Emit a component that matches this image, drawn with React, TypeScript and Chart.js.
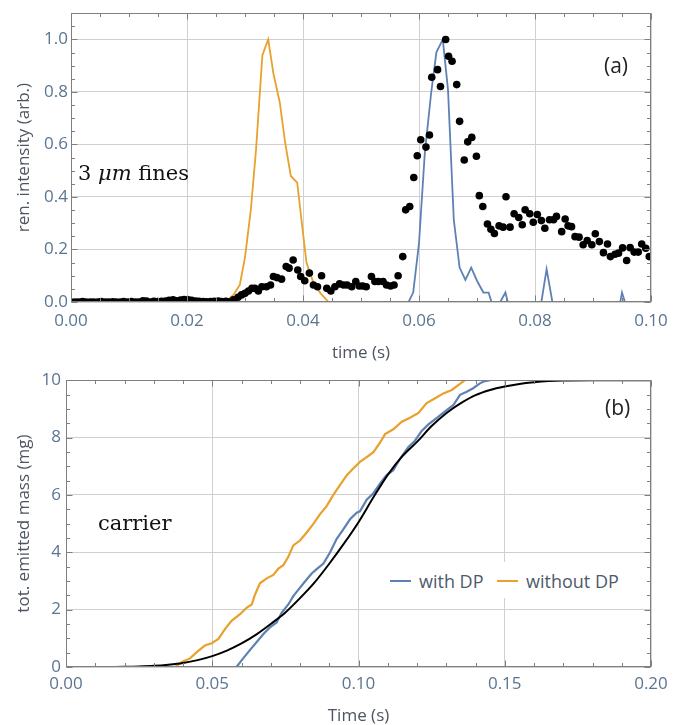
import React, { useEffect, useRef } from 'react';
import { Chart, registerables } from 'chart.js';
Chart.register(...registerables);

// ---------- Panel (a) data ----------
const dotT = [
  0.0000, 0.0007, 0.0013, 0.0020, 0.0026, 0.0033, 0.0039, 0.0046, 0.0052, 0.0059,
  0.0065, 0.0072, 0.0078, 0.0085, 0.0091, 0.0098, 0.0104, 0.0111, 0.0117, 0.0124,
  0.0130, 0.0137, 0.0143, 0.0150, 0.0156, 0.0163, 0.0169, 0.0176, 0.0182, 0.0189,
  0.0195, 0.0202, 0.0208, 0.0215, 0.0221, 0.0228, 0.0234, 0.0241, 0.0247, 0.0254,
  0.0260, 0.0267,
  0.0271, 0.0280, 0.0288, 0.0294, 0.0300, 0.0306, 0.0312, 0.0317, 0.0323, 0.0329,
  0.0337, 0.0344, 0.0349, 0.0355, 0.0363, 0.0371, 0.0376, 0.0383, 0.0391, 0.0396,
  0.0403, 0.0411, 0.0418, 0.0425, 0.0432, 0.0441, 0.0448, 0.0455, 0.0463, 0.0470,
  0.0476, 0.0484, 0.0491, 0.0497,
  0.0503, 0.0509, 0.0518, 0.0524, 0.0530, 0.0538, 0.0544, 0.0551, 0.0557, 0.0564,
  0.0572, 0.0577, 0.0584, 0.0591, 0.0597, 0.0603, 0.0612, 0.0618, 0.0622, 0.0632,
  0.0637, 0.0646, 0.0651, 0.0657, 0.0665, 0.0670, 0.0678, 0.0684, 0.0691, 0.0699,
  0.0704, 0.0710, 0.0718, 0.0724, 0.0730, 0.0738, 0.0745, 0.0750, 0.0757, 0.0764,
  0.0772, 0.0778, 0.0783, 0.0791, 0.0797, 0.0804, 0.0811, 0.0817, 0.0825, 0.0832,
  0.0837, 0.0846, 0.0852, 0.0857, 0.0863, 0.0869, 0.0876, 0.0883, 0.0890, 0.0898,
  0.0904, 0.0911, 0.0918, 0.0925, 0.0930, 0.0938, 0.0944, 0.0951, 0.0958, 0.0964,
  0.0971, 0.0978, 0.0984, 0.0991, 0.0997,
];
const dotV = [
  0, 0, 0, 0.002, 0, 0, 0, 0, 0.002, 0,
  0, 0.001, 0, 0, 0.002, 0, 0.002, 0, 0, 0.005,
  0.004, 0, 0.003, 0.002, 0.003, 0.004, 0.006, 0.008, 0.005, 0.007,
  0.009, 0.008, 0.006, 0.004, 0.003, 0.002, 0.001, 0.002, 0.003, 0.004,
  0.002, 0.003,
  0.001, 0.008, 0.018, 0.027, 0.033, 0.042, 0.052, 0.052, 0.042, 0.058,
  0.058, 0.065, 0.097, 0.093, 0.087, 0.135, 0.129, 0.160, 0.122, 0.097,
  0.081, 0.110, 0.065, 0.058, 0.100, 0.052, 0.042, 0.058, 0.069, 0.065,
  0.065, 0.058, 0.078, 0.061,
  0.061, 0.058, 0.097, 0.078, 0.078, 0.078, 0.065, 0.061, 0.065, 0.100,
  0.173, 0.351, 0.364, 0.474, 0.557, 0.618, 0.590, 0.636, 0.856, 0.885,
  0.821, 1.000, 0.936, 0.917, 0.828, 0.688, 0.541, 0.610, 0.627, 0.555,
  0.405, 0.364, 0.297, 0.277, 0.261, 0.290, 0.285, 0.401, 0.285, 0.336,
  0.322, 0.294, 0.351, 0.336, 0.304, 0.333, 0.310, 0.281, 0.313, 0.313,
  0.326, 0.268, 0.316, 0.290, 0.287, 0.249, 0.247, 0.218, 0.234, 0.218,
  0.260, 0.230, 0.188, 0.221, 0.173, 0.182, 0.186, 0.206, 0.158, 0.207,
  0.190, 0.190, 0.221, 0.205, 0.173,
];
const aOrangeT = [0.0266, 0.028, 0.0291, 0.030, 0.031, 0.0319, 0.033, 0.034, 0.0349, 0.036, 0.0369, 0.0379, 0.039, 0.0398, 0.0406, 0.0418, 0.043, 0.0444];
const aOrangeV = [0, 0.027, 0.065, 0.17, 0.35, 0.58, 0.94, 1.0, 0.87, 0.76, 0.61, 0.48, 0.455, 0.30, 0.15, 0.073, 0.034, 0];
const aBlueT = [0.0582, 0.059, 0.060, 0.061, 0.0621, 0.063, 0.0641, 0.065, 0.066, 0.067, 0.068, 0.069, 0.070, 0.0711, 0.072, 0.0725, 0.074, 0.0749, 0.0753, 0.0811, 0.082, 0.083, 0.0947, 0.095, 0.0955];
const aBlueV = [0, 0.036, 0.224, 0.567, 0.797, 0.951, 1.0, 0.809, 0.313, 0.131, 0.084, 0.131, 0.081, 0.036, 0.036, 0, 0, 0.036, 0, 0, 0.125, 0, 0, 0.036, 0];
const aXTicks = [0, 0.02, 0.04, 0.06, 0.08, 0.1];
const aYTicks = [0, 0.2, 0.4, 0.6, 0.8, 1.0];

// ---------- Panel (b) data ----------
const bModelT = [0, 0.01, 0.02, 0.025, 0.03, 0.035, 0.04, 0.045, 0.05, 0.055, 0.06, 0.065, 0.07, 0.075, 0.08, 0.085, 0.09, 0.095, 0.1, 0.105, 0.11, 0.115, 0.12, 0.125, 0.13, 0.135, 0.14, 0.145, 0.15, 0.155, 0.16, 0.165, 0.17, 0.18, 0.2];
const bModelM = [0, 0, 0.01, 0.02, 0.04, 0.08, 0.14, 0.24, 0.38, 0.57, 0.82, 1.13, 1.5, 1.9, 2.4, 2.95, 3.6, 4.3, 5.05, 5.9, 6.7, 7.35, 7.85, 8.4, 8.85, 9.2, 9.48, 9.66, 9.78, 9.87, 9.93, 9.97, 9.99, 10, 10];
const bOrangeT = [0, 0.0373, 0.0396, 0.0424, 0.0447, 0.0475, 0.0498, 0.0521, 0.0544, 0.0566, 0.0595, 0.0618, 0.0635, 0.0646, 0.0663, 0.0686, 0.0709, 0.0726, 0.0743, 0.076, 0.0777, 0.08, 0.0823, 0.0845, 0.0868, 0.0891, 0.0914, 0.0937, 0.096, 0.0982, 0.1005, 0.1028, 0.1051, 0.1074, 0.1091, 0.1119, 0.1148, 0.1176, 0.1205, 0.1233, 0.1262, 0.129, 0.1319, 0.1341, 0.1364];
const bOrangeM = [0, 0, 0.18, 0.3, 0.52, 0.75, 0.83, 0.98, 1.33, 1.61, 1.84, 2.07, 2.18, 2.52, 2.92, 3.09, 3.21, 3.43, 3.55, 3.84, 4.24, 4.41, 4.69, 4.98, 5.32, 5.61, 6.0, 6.35, 6.69, 6.92, 7.15, 7.32, 7.49, 7.83, 8.12, 8.29, 8.55, 8.69, 8.86, 9.2, 9.37, 9.54, 9.66, 9.83, 10.0];
const bBlueT = [0, 0.0583, 0.0601, 0.0623, 0.0652, 0.0675, 0.0697, 0.072, 0.0737, 0.076, 0.0777, 0.0794, 0.0817, 0.084, 0.0857, 0.088, 0.0903, 0.0925, 0.0948, 0.0971, 0.0994, 0.1005, 0.1028, 0.1051, 0.1074, 0.1096, 0.1119, 0.1142, 0.117, 0.1193, 0.1216, 0.1239, 0.1268, 0.1296, 0.1325, 0.1347, 0.137, 0.1392, 0.1415, 0.1432, 0.145];
const bBlueM = [0, 0, 0.24, 0.52, 0.87, 1.15, 1.38, 1.55, 1.89, 2.18, 2.47, 2.69, 2.98, 3.26, 3.41, 3.61, 4.0, 4.46, 4.8, 5.15, 5.38, 5.43, 5.83, 6.06, 6.4, 6.69, 6.86, 7.26, 7.66, 7.89, 8.23, 8.46, 8.69, 8.91, 9.14, 9.49, 9.6, 9.72, 9.89, 9.97, 10.0];
const bXTicks = [0, 0.05, 0.1, 0.15, 0.2];
const bYTicks = [0, 2, 4, 6, 8, 10];

const BLUE = '#5E81B5';
const ORANGE = '#E8A12A';
const TICK_COLOR = '#5a7592';
const TITLE_COLOR = '#4d5560';
const GRID = '#d0d0d0';
const FRAME = '#7f7f7f';
const SANS = "'Open Sans', sans-serif";

const pts = (xs: number[], ys: number[]) => xs.map((x, i) => ({ x, y: ys[i] }));

const framePlugin = {
  id: 'frameTicks',
  afterDraw(chart: any, _args: any, opts: any) {
    const { ctx, chartArea: a, scales } = chart;
    const xs = scales.x, ys = scales.y;
    ctx.save();
    ctx.strokeStyle = FRAME;
    ctx.lineWidth = 1;
    const L = Math.round(a.left) + 0.5, R = Math.round(a.right) - 0.5;
    const T = Math.round(a.top) + 0.5, B = Math.round(a.bottom) - 0.5;
    ctx.beginPath();
    const nx = Math.round((xs.max - xs.min) / opts.xMinor);
    for (let i = 0; i <= nx; i++) {
      const v = xs.min + i * opts.xMinor;
      const major = Math.abs(v / opts.xMajor - Math.round(v / opts.xMajor)) < 1e-6;
      const len = major ? 6 : 3.5;
      const px = Math.round(xs.getPixelForValue(v)) + 0.5;
      ctx.moveTo(px, B); ctx.lineTo(px, B - len);
      ctx.moveTo(px, T); ctx.lineTo(px, T + len);
    }
    const ny = Math.round((ys.max - ys.min) / opts.yMinor);
    for (let i = 0; i <= ny; i++) {
      const v = ys.min + i * opts.yMinor;
      const major = Math.abs(v / opts.yMajor - Math.round(v / opts.yMajor)) < 1e-6;
      const len = major ? 6 : 3.5;
      const py = Math.round(ys.getPixelForValue(v)) + 0.5;
      ctx.moveTo(L, py); ctx.lineTo(L + len, py);
      ctx.moveTo(R, py); ctx.lineTo(R - len, py);
    }
    ctx.stroke();
    ctx.strokeRect(L, T, R - L, B - T);
    ctx.restore();
  },
};

function makeOptions(cfg: any): any {
  return {
    responsive: false,
    animation: false,
    events: [],
    layout: { padding: { top: cfg.padTop, right: cfg.padRight, left: 0, bottom: 0 } },
    plugins: {
      legend: { display: false },
      tooltip: { enabled: false },
      frameTicks: cfg.frame,
    },
    scales: {
      x: {
        type: 'linear',
        min: cfg.xMin, max: cfg.xMax,
        afterBuildTicks: (s: any) => { s.ticks = cfg.xTicks.map((v: number) => ({ value: v })); },
        afterFit: (s: any) => { s.height = cfg.xHeight; },
        grid: { color: GRID, lineWidth: 1, drawTicks: false },
        border: { display: false },
        ticks: {
          color: TICK_COLOR, font: { family: SANS, size: 17 }, padding: cfg.xTickPad,
          maxRotation: 0, autoSkip: false,
          callback: (v: any) => Number(v).toFixed(cfg.xDec),
        },
        title: {
          display: true, text: cfg.xTitle, color: TITLE_COLOR,
          font: { family: SANS, size: 17 }, padding: { top: 0, bottom: cfg.xTitlePad },
        },
      },
      y: {
        type: 'linear',
        min: cfg.yMin, max: cfg.yMax,
        afterBuildTicks: (s: any) => { s.ticks = cfg.yTicks.map((v: number) => ({ value: v })); },
        afterFit: (s: any) => { s.width = cfg.yWidth; },
        grid: { color: GRID, lineWidth: 1, drawTicks: false },
        border: { display: false },
        ticks: {
          color: TICK_COLOR, font: { family: SANS, size: 17 }, padding: cfg.yTickPad,
          autoSkip: false,
          callback: (v: any) => Number(v).toFixed(cfg.yDec),
        },
        title: {
          display: true, text: cfg.yTitle, color: TITLE_COLOR,
          font: { family: SANS, size: 17 }, padding: { top: 13.8, bottom: 0 },
        },
      },
    },
  };
}

function PanelA() {
  const ref = useRef<HTMLCanvasElement>(null);
  useEffect(() => {
    const chart = new Chart(ref.current!, {
      type: 'scatter',
      data: {
        datasets: [
          {
            label: 'fines',
            data: pts(dotT, dotV),
            showLine: false,
            pointRadius: 3.8,
            pointBackgroundColor: '#000',
            pointBorderWidth: 0,
            clip: 0,
            order: 0,
          } as any,
          {
            label: 'without DP',
            data: pts(aOrangeT, aOrangeV),
            showLine: true,
            borderColor: ORANGE,
            borderWidth: 1.8,
            pointRadius: 0,
            clip: 0,
            order: 2,
          },
          {
            label: 'with DP',
            data: pts(aBlueT, aBlueV),
            showLine: true,
            borderColor: BLUE,
            borderWidth: 1.8,
            pointRadius: 0,
            clip: 0,
            order: 1,
          },
        ],
      },
      options: makeOptions({
        padTop: 13, padRight: 32,
        xMin: 0, xMax: 0.1, yMin: 0, yMax: 1.1,
        xTicks: aXTicks, yTicks: aYTicks,
        xHeight: 63, yWidth: 71,
        xTickPad: 9, yTickPad: 3,
        xDec: 2, yDec: 1,
        xTitle: 'time (s)', yTitle: 'ren. intensity (arb.)',
        xTitlePad: 1.5,
        frame: { xMinor: 0.005, xMajor: 0.02, yMinor: 0.05, yMajor: 0.2 },
      }),
      plugins: [framePlugin],
    });
    return () => chart.destroy();
  }, []);
  return <canvas ref={ref} width={683} height={365} style={{ position: 'absolute', left: 0, top: 0 }} />;
}

function PanelB() {
  const ref = useRef<HTMLCanvasElement>(null);
  useEffect(() => {
    const chart = new Chart(ref.current!, {
      type: 'scatter',
      data: {
        datasets: [
          {
            label: 'with DP',
            data: pts(bBlueT, bBlueM),
            showLine: true,
            borderColor: BLUE,
            borderWidth: 2.2,
            pointRadius: 0,
            clip: 0,
            order: 2,
          },
          {
            label: 'without DP',
            data: pts(bOrangeT, bOrangeM),
            showLine: true,
            borderColor: ORANGE,
            borderWidth: 2.2,
            pointRadius: 0,
            clip: 0,
            order: 1,
          },
          {
            label: 'model',
            data: pts(bModelT, bModelM),
            showLine: true,
            borderColor: '#000',
            borderWidth: 2,
            pointRadius: 0,
            cubicInterpolationMode: 'monotone',
            clip: 0,
            order: 0,
          } as any,
        ],
      },
      options: makeOptions({
        padTop: 10, padRight: 32,
        xMin: 0, xMax: 0.2, yMin: 0, yMax: 10,
        xTicks: bXTicks, yTicks: bYTicks,
        xHeight: 58, yWidth: 66,
        xTickPad: 7, yTickPad: 5,
        xDec: 2, yDec: 0,
        xTitle: 'Time (s)', yTitle: 'tot. emitted mass (mg)',
        xTitlePad: -1,
        frame: { xMinor: 0.01, xMajor: 0.05, yMinor: 0.5, yMajor: 2 },
      }),
      plugins: [framePlugin],
    });
    return () => chart.destroy();
  }, []);
  return <canvas ref={ref} width={683} height={360} style={{ position: 'absolute', left: 0, top: 365 }} />;
}

const abs = (left: number, top: number, extra: any = {}): any => ({
  position: 'absolute', left, top, transform: 'translateY(-50%)', lineHeight: 1, whiteSpace: 'nowrap', ...extra,
});

export default function App() {
  return (
    <div style={{ position: 'fixed', left: 0, top: 0, width: 683, height: 725, background: '#fff', overflow: 'hidden' }}>
      <PanelA />
      <PanelB />
      <div style={abs(604, 65, { fontFamily: SANS, fontSize: 21, color: '#222' })}>(a)</div>
      <div style={abs(605, 407, { fontFamily: SANS, fontSize: 21, color: '#222' })}>(b)</div>
      <div style={abs(78, 173, { fontFamily: "'DejaVu Serif', serif", fontSize: 21, color: '#111' })}>
        3 <i>μm</i> fines
      </div>
      <div style={abs(98, 523, { fontFamily: "'DejaVu Serif', serif", fontSize: 21, color: '#111' })}>carrier</div>
      <div style={{ position: 'absolute', left: 383, top: 562, width: 242, height: 36, background: '#fff' }} />
      <div style={{ position: 'absolute', left: 390, top: 579.5, width: 21, height: 2.5, background: BLUE }} />
      <div style={abs(419, 581, { fontFamily: SANS, fontSize: 18, color: '#4d5a6a' })}>with DP</div>
      <div style={{ position: 'absolute', left: 497, top: 579.5, width: 21, height: 2.5, background: ORANGE }} />
      <div style={abs(526, 581, { fontFamily: SANS, fontSize: 18, color: '#4d5a6a' })}>without DP</div>
    </div>
  );
}
